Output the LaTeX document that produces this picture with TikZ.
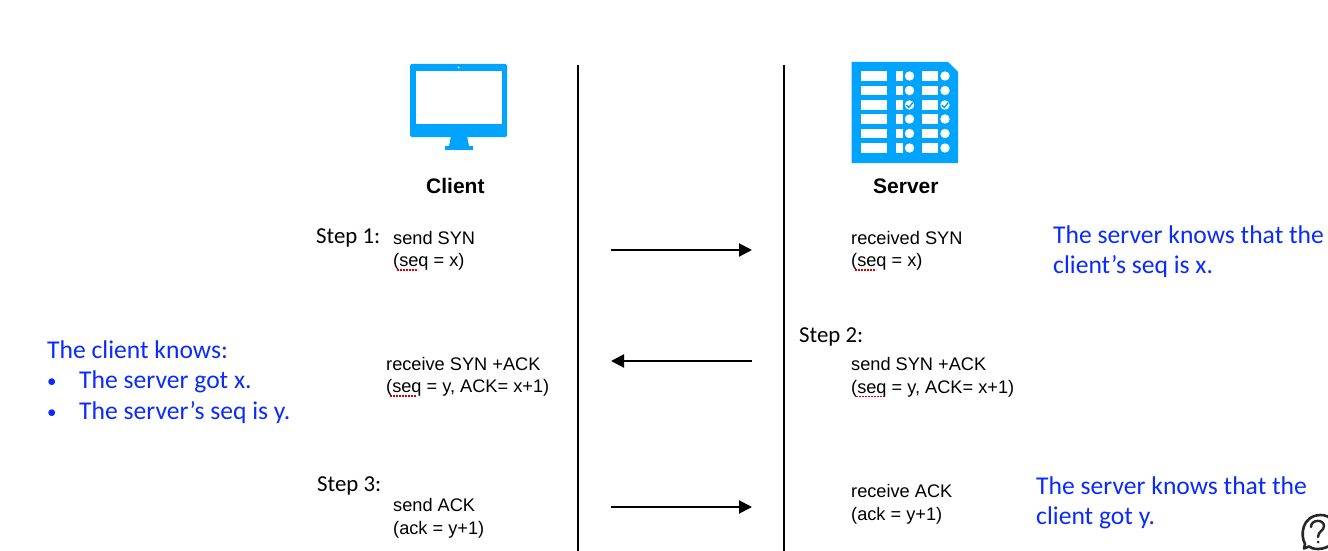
\documentclass[tikz,border=0pt]{standalone}
\usepackage{fontspec}
\setmainfont{Liberation Sans}
\newfontfamily\calfont{Carlito}
\usetikzlibrary{arrows.meta}
\definecolor{iconblue}{HTML}{00A4FF}
\definecolor{noteblue}{HTML}{0A2BFF}
\tikzset{
  lbl/.style={anchor=base west,inner sep=0pt,font=\fontsize{18.2}{22}\selectfont,text=black},
  head/.style={anchor=base west,inner sep=0pt,font=\fontsize{21}{25}\selectfont\bfseries,text=black},
  stepl/.style={anchor=base west,inner sep=0pt,font=\calfont\fontsize{22.8}{27}\selectfont,text=black},
  note/.style={anchor=base west,inner sep=0pt,font=\calfont\fontsize{25.6}{30}\selectfont,text=noteblue},
  bul/.style={anchor=base west,inner sep=0pt,font=\calfont\fontsize{19}{30}\selectfont,text=noteblue},
  divider/.style={line width=2.4pt,black},
  msg/.style={line width=2pt,black,-{Triangle[length=13pt,width=13pt]}},
  squig/.style={red!85!black,line width=1.3pt,dash pattern=on 1.8pt off 1.2pt},
  icon/.style={fill=iconblue,draw=none},
  hole/.style={fill=white,draw=none}
}
\begin{document}
\begin{tikzpicture}[x=1pt,y=-1pt]
\useasboundingbox (0,0) rectangle (1328,551);
\fill[white] (0,0) rectangle (1328,551);
\clip (0,0) rectangle (1328,551);
% dividers
\coordinate (c1t) at (578,65); \coordinate (c1e) at (578,551);
\coordinate (c2t) at (784,65); \coordinate (c2e) at (784,551);
\draw[divider] (c1t) -- (c1e);
\draw[divider] (c2t) -- (c2e);
% arrows
\coordinate (a1l) at (611,250); \coordinate (a1r) at (752,250);
\coordinate (a2l) at (611,361); \coordinate (a2r) at (752,361);
\coordinate (a3l) at (611,507); \coordinate (a3r) at (752,507);
\draw[msg] (a1l) -- (a1r);
\draw[msg] (a2r) -- (a2l);
\draw[msg] (a3l) -- (a3r);
% monitor icon
\fill[icon,rounded corners=1.5pt] (410,64) rectangle (507,137);
\fill[hole] (416,71) rectangle (502,124);
\fill[hole] (458.7,67.5) circle (1pt);
\fill[icon] (451,136) -- (467,136) -- (469,146) -- (449,146) -- cycle;
\fill[icon] (445,146) rectangle (473,149.5);
% server icon
\fill[icon] (851.5,62) -- (948,62) -- (958,72) -- (958,163) -- (851.5,163) -- cycle;
\foreach \y in {76,90.5,105,119,133.5,148}{
  \fill[hole] (861,\y-4.8) rectangle (887,\y+4.8);
  \fill[hole] (896,\y-4.8) rectangle (902.5,\y+4.8);
  \fill[hole] (922,\y-4.8) rectangle (937.5,\y+4.8);
  \fill[hole] (909.5,\y) circle (4.7);
  \fill[hole] (945,\y) circle (4.7);
}
\draw[iconblue,line width=1.4pt] (906.5,105) -- (908.8,107.5) -- (912.8,102.5);
\draw[iconblue,line width=1.4pt] (942,105) -- (944.3,107.5) -- (948.3,102.5);
% headings
\node[head] (client) at (426,193) {Client};
\node[head] (server) at (873,193) {Server};
% client column
\node[stepl] (s1) at (316,243) {Step 1:};
\node[lbl] (c1a) at (393,244) {send SYN};
\node[lbl] (c1b) at (393,266) {(seq = x)};
\node[lbl] (c2a) at (386,370) {receive SYN +ACK};
\node[lbl] (c2b) at (386,392) {(seq = y, ACK= x+1)};
\node[stepl] (s3) at (317,491) {Step 3:};
\node[lbl] (c3a) at (393,511) {send ACK};
\node[lbl] (c3b) at (393,534) {(ack = y+1)};
% server column
\node[lbl] (r1a) at (851,244) {received SYN};
\node[lbl] (r1b) at (851,266) {(seq = x)};
\node[stepl] (s2) at (799,342) {Step 2:};
\node[lbl] (r2a) at (851,370) {send SYN +ACK};
\node[lbl] (r2b) at (851,393) {(seq = y, ACK= x+1)};
\node[lbl] (r3a) at (851,497) {receive ACK};
\node[lbl] (r3b) at (851,520) {(ack = y+1)};
% spell-check squiggles
\draw[squig] (397,270) -- (418,270);
\draw[squig] (855,270) -- (876,270);
\draw[squig] (390,396) -- (417,396);
\draw[squig] (856,396.5) -- (884,396.5);
% blue notes
\node[note] (n1) at (47,358) {The client knows:};
\node[bul] (n1b) at (47,387) {•};
\node[note] (n1c) at (79,388) {The server got x.};
\node[bul] (n1d) at (47,418) {•};
\node[note] (n1e) at (79,419) {The server’s seq is y.};
\node[note] (n2) at (1053,243.5) {The server knows that the};
\node[note] (n2b) at (1053,273.5) {client’s seq is x.};
\node[note] (n3) at (1036,494.5) {The server knows that the};
\node[note] (n3b) at (1036,524.5) {client got y.};
% help bubble
\draw[black!85,line width=2.6pt,line join=round]
  (1305,544) .. controls (1300,535) and (1302,516) .. (1320,515)
  .. controls (1340,514) and (1345,548) .. (1318,549)
  .. controls (1314,549) and (1311,548) .. (1309,546.5)
  -- (1304,548.5) -- cycle;
\draw[black!85,line width=2.4pt,line cap=round] (1311,527) .. controls (1311,519) and (1324,519) .. (1324,526) .. controls (1324,531) and (1318,531) .. (1318,537);
\fill[black!85] (1318,542) circle (1.5);
\end{tikzpicture}
\end{document}
